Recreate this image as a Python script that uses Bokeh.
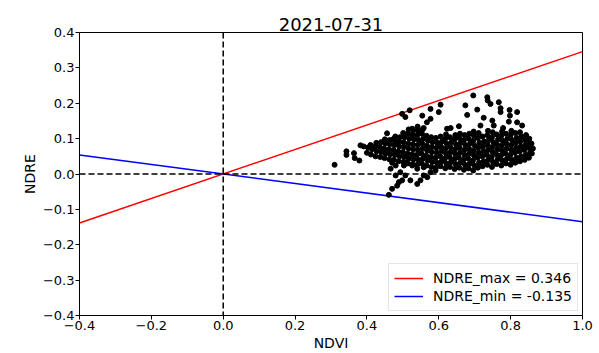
from bokeh.plotting import figure
from bokeh.models import ColumnDataSource, Span, Legend, LegendItem, FixedTicker
from bokeh.embed import file_html
from bokeh.resources import INLINE

title_text = "2021-07-31"
x_label = "NDVI"
y_label = "NDRE"

ndre_max = 0.346
ndre_min = -0.135
line_x = [-0.4, 1.0]

x_ticks = [-0.4, -0.2, 0.0, 0.2, 0.4, 0.6, 0.8, 1.0]
x_tick_labels = ["\u22120.4", "\u22120.2", "0.0", "0.2", "0.4", "0.6", "0.8", "1.0"]
y_ticks = [-0.4, -0.3, -0.2, -0.1, 0.0, 0.1, 0.2, 0.3, 0.4]
y_tick_labels = ["\u22120.4", "\u22120.3", "\u22120.2", "\u22120.1", "0.0", "0.1", "0.2", "0.3", "0.4"]

# dense core of the point cloud
core_ndvi = [
    0.400, 0.403,
    0.411, 0.414, 0.410,
    0.424, 0.427, 0.423, 0.426,
    0.437, 0.440, 0.436, 0.439,
    0.449, 0.452, 0.448, 0.451, 0.450,
    0.462, 0.465, 0.461, 0.464, 0.463,
    0.475, 0.478, 0.474, 0.477, 0.476, 0.479,
    0.488, 0.491, 0.487, 0.490, 0.489, 0.492,
    0.501, 0.504, 0.500, 0.503, 0.502, 0.505, 0.501,
    0.514, 0.517, 0.513, 0.516, 0.515, 0.518, 0.514, 0.516,
    0.527, 0.530, 0.526, 0.529, 0.528, 0.531, 0.527, 0.529,
    0.540, 0.543, 0.539, 0.542, 0.541, 0.544, 0.540, 0.542, 0.541,
    0.553, 0.556, 0.552, 0.555, 0.554, 0.557, 0.553, 0.555,
    0.566, 0.569, 0.565, 0.568, 0.567, 0.570, 0.566,
    0.579, 0.582, 0.578, 0.581, 0.580, 0.583, 0.579,
    0.592, 0.595, 0.591, 0.594, 0.593, 0.596, 0.592,
    0.605, 0.608, 0.604, 0.607, 0.606, 0.609, 0.605,
    0.618, 0.621, 0.617, 0.620, 0.619, 0.622, 0.618, 0.620,
    0.631, 0.634, 0.630, 0.633, 0.632, 0.635, 0.631,
    0.644, 0.647, 0.643, 0.646, 0.645, 0.648, 0.644, 0.646,
    0.657, 0.660, 0.656, 0.659, 0.658, 0.661, 0.657, 0.659,
    0.670, 0.673, 0.669, 0.672, 0.671, 0.674, 0.670, 0.672,
    0.683, 0.686, 0.682, 0.685, 0.684, 0.687, 0.683, 0.685,
    0.696, 0.699, 0.695, 0.698, 0.697, 0.700, 0.696, 0.698,
    0.709, 0.712, 0.708, 0.711, 0.710, 0.713, 0.709, 0.711,
    0.722, 0.725, 0.721, 0.724, 0.723, 0.726, 0.722,
    0.735, 0.738, 0.734, 0.737, 0.736, 0.739, 0.735, 0.737,
    0.748, 0.751, 0.747, 0.750, 0.749, 0.752, 0.748, 0.750,
    0.761, 0.764, 0.760, 0.763, 0.762, 0.765, 0.761,
    0.774, 0.777, 0.773, 0.776, 0.775, 0.778, 0.774, 0.776,
    0.787, 0.790, 0.786, 0.789, 0.788, 0.791, 0.787,
    0.800, 0.803, 0.799, 0.802, 0.801, 0.804, 0.800, 0.802,
    0.813, 0.816, 0.812, 0.815, 0.814, 0.817, 0.813,
    0.826, 0.829, 0.825, 0.828, 0.827, 0.830, 0.826,
    0.839, 0.842, 0.838, 0.841, 0.840, 0.843,
    0.851, 0.854, 0.850, 0.853, 0.852,
    0.859, 0.862, 0.858,
]
core_ndre = [
    0.060, 0.075,
    0.055, 0.070, 0.082,
    0.050, 0.064, 0.078, 0.088,
    0.048, 0.062, 0.076, 0.090,
    0.045, 0.058, 0.072, 0.086, 0.098,
    0.042, 0.056, 0.070, 0.084, 0.096,
    0.040, 0.054, 0.068, 0.082, 0.095, 0.106,
    0.036, 0.050, 0.064, 0.078, 0.092, 0.104,
    0.034, 0.048, 0.062, 0.076, 0.090, 0.104, 0.116,
    0.030, 0.044, 0.058, 0.072, 0.086, 0.100, 0.114, 0.126,
    0.028, 0.042, 0.056, 0.070, 0.084, 0.098, 0.112, 0.124,
    0.026, 0.040, 0.054, 0.068, 0.082, 0.096, 0.110, 0.122, 0.134,
    0.030, 0.044, 0.058, 0.072, 0.086, 0.100, 0.114, 0.126,
    0.024, 0.038, 0.052, 0.066, 0.080, 0.094, 0.108,
    0.020, 0.034, 0.048, 0.062, 0.076, 0.090, 0.104,
    0.018, 0.032, 0.046, 0.060, 0.074, 0.088, 0.102,
    0.022, 0.036, 0.050, 0.064, 0.078, 0.092, 0.106,
    0.016, 0.030, 0.044, 0.058, 0.072, 0.086, 0.100, 0.112,
    0.020, 0.034, 0.048, 0.062, 0.076, 0.090, 0.104,
    0.014, 0.028, 0.042, 0.056, 0.070, 0.084, 0.098, 0.110,
    0.018, 0.032, 0.046, 0.060, 0.074, 0.088, 0.102, 0.114,
    0.012, 0.026, 0.040, 0.054, 0.068, 0.082, 0.096, 0.110,
    0.016, 0.030, 0.044, 0.058, 0.072, 0.086, 0.100, 0.114,
    0.010, 0.024, 0.038, 0.052, 0.066, 0.080, 0.094, 0.108,
    0.018, 0.032, 0.046, 0.060, 0.074, 0.088, 0.102, 0.116,
    0.022, 0.036, 0.050, 0.064, 0.078, 0.092, 0.106,
    0.026, 0.040, 0.054, 0.068, 0.082, 0.096, 0.110, 0.122,
    0.020, 0.034, 0.048, 0.062, 0.076, 0.090, 0.104, 0.118,
    0.028, 0.042, 0.056, 0.070, 0.084, 0.098, 0.112,
    0.024, 0.038, 0.052, 0.066, 0.080, 0.094, 0.108, 0.120,
    0.030, 0.044, 0.058, 0.072, 0.086, 0.100, 0.114,
    0.026, 0.040, 0.054, 0.068, 0.082, 0.096, 0.110, 0.122,
    0.032, 0.046, 0.060, 0.074, 0.088, 0.102, 0.116,
    0.036, 0.050, 0.064, 0.078, 0.092, 0.106, 0.118,
    0.040, 0.054, 0.068, 0.082, 0.096, 0.110,
    0.046, 0.060, 0.074, 0.088, 0.100,
    0.058, 0.072, 0.086,
]

# scattered points around the core
outer_ndvi = [
    0.310, 0.343, 0.343, 0.364, 0.366, 0.379, 0.382, 0.391,
    0.456, 0.474, 0.484,
    0.498, 0.519, 0.507,
    0.554, 0.577, 0.600, 0.605, 0.577, 0.567,
    0.526, 0.558, 0.623, 0.633, 0.656,
    0.674, 0.696, 0.707, 0.679, 0.735, 0.736, 0.744, 0.725,
    0.767, 0.772, 0.772, 0.797, 0.798, 0.818, 0.795, 0.818,
    0.749, 0.716, 0.753, 0.779, 0.832, 0.697,
    0.461, 0.470, 0.484, 0.489, 0.498, 0.480, 0.493, 0.507,
    0.521, 0.540, 0.549, 0.558, 0.568, 0.577, 0.591,
    0.503, 0.512, 0.526, 0.466, 0.470, 0.480, 0.540, 0.558,
]
outer_ndre = [
    0.026, 0.064, 0.054, 0.059, 0.045, 0.038, 0.081, 0.078,
    0.115, 0.099, 0.085,
    0.170, 0.180, 0.161,
    0.165, 0.184, 0.175, 0.196, 0.156, 0.146,
    0.128, 0.130, 0.128, 0.130, 0.135,
    0.194, 0.222, 0.182, 0.167, 0.217, 0.208, 0.198, 0.159,
    0.203, 0.186, 0.175, 0.181, 0.165, 0.175, 0.148, 0.146,
    0.151, 0.137, 0.137, 0.130, 0.137, 0.120,
    -0.059, -0.042, -0.033, -0.023, -0.018, -0.004, 0.005, -0.004,
    -0.018, -0.028, -0.018, -0.004, -0.009, 0.005, 0.010,
    0.024, 0.033, 0.024, 0.015, 0.032, 0.024, 0.015, 0.019,
]

FONT = "DejaVu Sans"

p = figure(
    width=599, height=353,
    x_range=(-0.4, 1.0), y_range=(-0.4, 0.4),
    output_backend="svg", toolbar_location=None,
    min_border_left=79, min_border_right=17, min_border_top=32, min_border_bottom=38,
)
p.background_fill_color = "white"
p.border_fill_color = "white"
p.outline_line_color = "black"
p.outline_line_width = 1
p.xgrid.visible = False
p.ygrid.visible = False

p.title.text = title_text
p.title.align = "center"
p.title.text_font = FONT
p.title.text_font_size = "18px"
p.title.text_font_style = "normal"
p.title.text_color = "black"
p.title.offset = 0
p.title.standoff = 4

for ax in (p.xaxis[0], p.yaxis[0]):
    ax.major_label_text_font = FONT
    ax.major_label_text_font_size = "13px"
    ax.major_label_text_color = "black"
    ax.axis_label_text_font = FONT
    ax.axis_label_text_font_size = "14px"
    ax.axis_label_text_font_style = "normal"
    ax.axis_label_text_color = "black"
    ax.major_tick_in = 0
    ax.major_tick_out = 4
    ax.minor_tick_in = 0
    ax.minor_tick_out = 0
    ax.axis_line_color = "black"
    ax.major_tick_line_color = "black"
    ax.major_label_standoff = 1
    ax.axis_label_standoff = 2

p.xaxis[0].axis_label = x_label
p.yaxis[0].axis_label = y_label
p.xaxis[0].ticker = FixedTicker(ticks=x_ticks)
p.yaxis[0].ticker = FixedTicker(ticks=y_ticks)
p.xaxis[0].major_label_overrides = dict(zip(x_ticks, x_tick_labels))
p.yaxis[0].major_label_overrides = dict(zip(y_ticks, y_tick_labels))

p.add_layout(Span(location=0, dimension="height", line_color="black",
                  line_width=1.5, line_dash="6 3"))
p.add_layout(Span(location=0, dimension="width", line_color="black",
                  line_width=1.5, line_dash="6 3"))

r_max = p.line(line_x, [ndre_max * v for v in line_x], line_color="red", line_width=1.5)
r_min = p.line(line_x, [ndre_min * v for v in line_x], line_color="blue", line_width=1.5)

src = ColumnDataSource(dict(x=core_ndvi + outer_ndvi, y=core_ndre + outer_ndre))
p.scatter("x", "y", source=src, size=5, fill_color="black", line_color="black")

legend = Legend(items=[
    LegendItem(label=f"NDRE_max = {ndre_max}", renderers=[r_max]),
    LegendItem(label=f"NDRE_min = {ndre_min}", renderers=[r_min]),
], location="bottom_right")
legend.label_text_font = FONT
legend.label_text_font_size = "14px"
legend.label_text_color = "black"
legend.border_line_color = "#cccccc"
legend.border_line_width = 1
legend.background_fill_alpha = 0.8
legend.glyph_width = 29
legend.glyph_height = 18
legend.label_standoff = 10
legend.label_height = 18
legend.spacing = 0
legend.padding = 5
legend.margin = 4
p.add_layout(legend)

open("out.html", "w").write(file_html(p, INLINE))
